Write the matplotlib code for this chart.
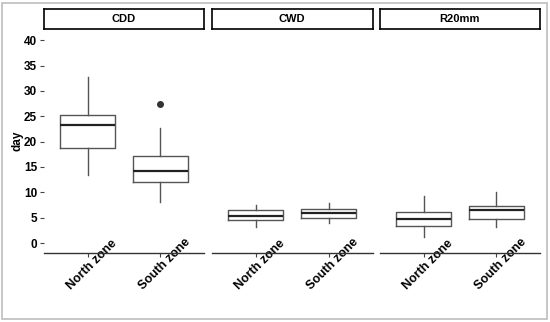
import matplotlib
matplotlib.use("Agg")
import matplotlib.pyplot as plt
from matplotlib.patches import Rectangle
from matplotlib.transforms import ScaledTranslation

plt.rcParams["font.family"] = ["Liberation Sans", "DejaVu Sans"]

# values (days)
indices = ["CDD", "CWD", "R20mm"]
zones = ["North zone", "South zone"]
whislo = [[13.4, 8.1], [3.1, 4.0], [1.2, 3.2]]
q1 = [[18.8, 12.0], [4.5, 4.9], [3.4, 4.7]]
med = [[23.3, 14.3], [5.4, 6.0], [4.8, 6.6]]
q3 = [[25.2, 17.2], [6.6, 6.7], [6.2, 7.4]]
whishi = [[32.7, 22.7], [7.5, 7.95], [9.3, 10.1]]
fliers = [[[], [27.5]], [[], []], [[], []]]
y_ticks = [0, 5, 10, 15, 20, 25, 30, 35, 40]

W, H = 550, 322
fig = plt.figure(figsize=(W / 100, H / 100), dpi=100)

# outer grey frame
fig.patches.append(Rectangle((2 / W, 3 / H), 545 / W, 316 / H, transform=fig.transFigure,
                             fill=False, edgecolor="#bdbdbd", linewidth=1.2))

panel_x = [(44, 204), (211.5, 373), (380, 540)]
y_top, y_bot = 29, 252.7
strip_top = 9
shift = ScaledTranslation(4 / 100, 0, fig.dpi_scale_trans)

for i, name in enumerate(indices):
    x0, x1 = panel_x[i]
    ax = fig.add_axes([x0 / W, (H - y_bot) / H, (x1 - x0) / W, (y_bot - y_top) / H])
    stats = []
    for j, z in enumerate(zones):
        stats.append(dict(label=z, whislo=whislo[i][j], q1=q1[i][j], med=med[i][j],
                          q3=q3[i][j], whishi=whishi[i][j], fliers=fliers[i][j]))
    ax.bxp(stats, positions=[1, 2], widths=0.75, showcaps=False,
           boxprops=dict(color="#555555", linewidth=1.0),
           whiskerprops=dict(color="#555555", linewidth=1.0),
           medianprops=dict(color="#222222", linewidth=1.6),
           flierprops=dict(marker="o", markerfacecolor="#333333", markeredgecolor="#333333",
                           markersize=4))
    ax.set_xlim(0.4, 2.6)
    ax.set_ylim(-1.9, 42.2)
    for s in ["top", "right", "left"]:
        ax.spines[s].set_visible(False)
    ax.spines["bottom"].set_color("#333333")
    ax.spines["bottom"].set_linewidth(1.0)
    ax.set_xticks([1, 2])
    ax.set_xticklabels(zones, rotation=45, ha="center", va="center", rotation_mode="anchor",
                       fontsize=9, fontweight="bold")
    ax.tick_params(axis="x", length=3, color="#444444", pad=5.5)
    for lbl in ax.get_xticklabels():
        lbl.set_transform(lbl.get_transform() + shift)
    if i == 0:
        ax.set_yticks(y_ticks)
        ax.set_yticklabels([str(t) for t in y_ticks], fontsize=8.5, fontweight="bold")
        ax.tick_params(axis="y", length=3, color="#444444", pad=2)
        ax.set_ylabel("day", fontsize=8.5, fontweight="bold", labelpad=0)
    else:
        ax.set_yticks([])

    # strip header
    sax = fig.add_axes([x0 / W, (H - y_top) / H, (x1 - x0) / W, (y_top - strip_top) / H])
    sax.set_xticks([])
    sax.set_yticks([])
    for s in sax.spines.values():
        s.set_color("black")
        s.set_linewidth(1.2)
    sax.text(0.5, 0.5, name, ha="center", va="center", fontsize=8, fontweight="bold",
             transform=sax.transAxes)

fig.savefig("out.png", dpi=100)
